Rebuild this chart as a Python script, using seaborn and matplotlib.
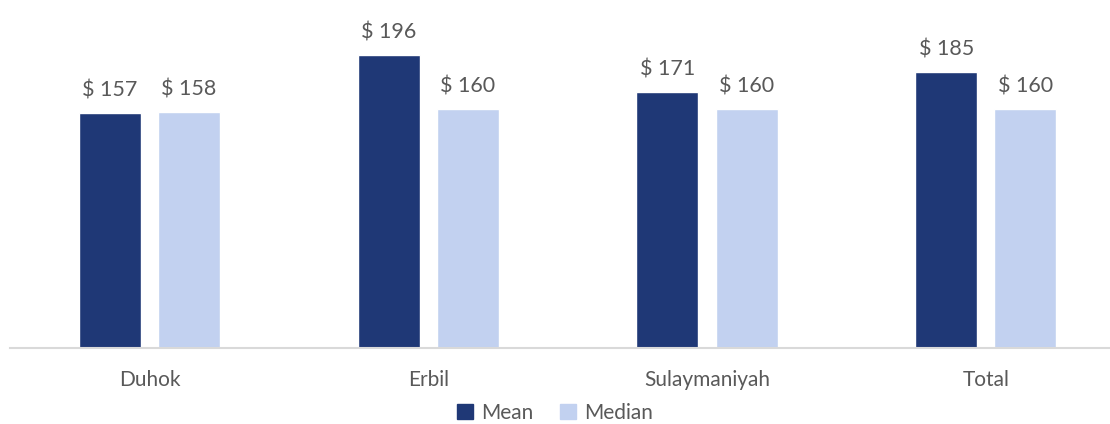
import matplotlib
matplotlib.use("Agg")
import matplotlib.pyplot as plt
import seaborn as sns
import pandas as pd

regions = ["Duhok", "Erbil", "Sulaymaniyah", "Total"]
mean_values = [157, 196, 171, 185]
median_values = [158, 160, 160, 160]
series_names = ["Mean", "Median"]
colors = ["#1F3876", "#C2D1F0"]

df = pd.DataFrame({
    "region": regions * 2,
    "stat": [series_names[0]] * len(regions) + [series_names[1]] * len(regions),
    "value": mean_values + median_values,
})

sns.set_theme(style="white")
plt.rcParams["font.family"] = ["Lato", "DejaVu Sans"]
text_color = "#595959"

fig = plt.figure(figsize=(11.1, 4.24), dpi=100)
ax = fig.add_axes([10 / 1110, (424 - 347.5) / 424, 1100 / 1110, 347.5 / 424])

sns.barplot(data=df, x="region", y="value", hue="stat", order=regions,
            hue_order=series_names, palette=colors, width=0.567, gap=0.216,
            saturation=1, ax=ax, legend=False)

ax.set_xlim(-0.5, 1100 / 278.8 - 0.5)
ax.set_ylim(0, 233)
ax.set_yticks([])
ax.set_xlabel("")
ax.set_ylabel("")
for side in ["top", "right", "left"]:
    ax.spines[side].set_visible(False)
ax.spines["bottom"].set_color("#D9D9D9")
ax.spines["bottom"].set_linewidth(1.5)
ax.tick_params(axis="x", length=0, pad=16, labelsize=15, labelcolor=text_color)

for container in ax.containers:
    ax.bar_label(container, labels=[f"$ {v:.0f}" for v in container.datavalues],
                 padding=9, fontsize=15.5, color=text_color)

handles = [plt.Rectangle((0, 0), 1, 1, color=c) for c in colors]
fig.legend(handles, series_names, loc="center", bbox_to_anchor=(0.5, 1 - 413 / 424),
           ncol=2, frameon=False, fontsize=15, labelcolor=text_color,
           handlelength=0.75, handleheight=0.75, handletextpad=0.4, columnspacing=1.3,
           borderpad=0.2)

fig.savefig("out.png", dpi=100)
